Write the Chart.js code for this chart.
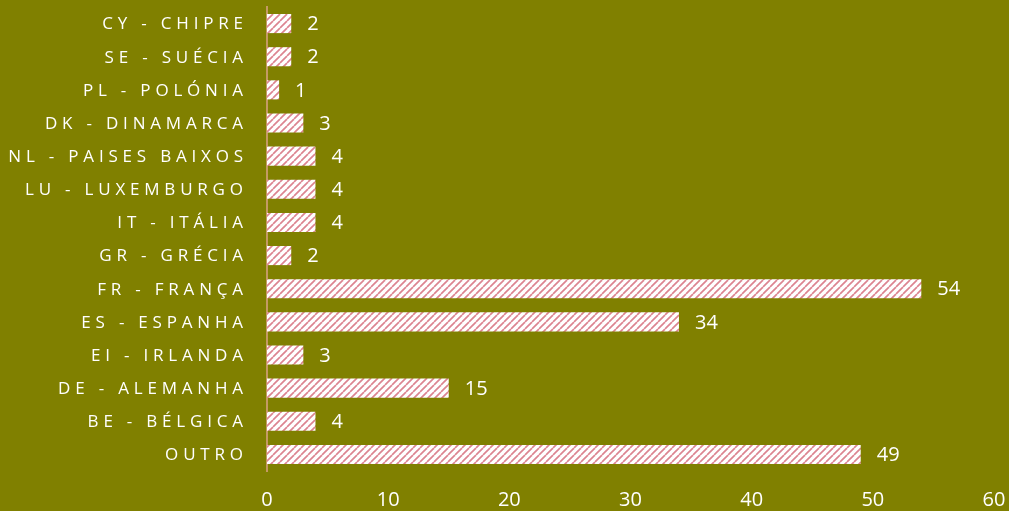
<!DOCTYPE html>
<html>
<head>
<meta charset="utf-8">
<script src="https://cdn.jsdelivr.net/npm/chart.js@4/dist/chart.umd.min.js"></script>
<style>
    html, body { margin: 0; padding: 0; background: #808000; }
    #wrap { width: 1009px; height: 511px; }
</style>
</head>
<body>
<div id="wrap"><canvas id="grafico"></canvas></div>
<script>
// datos (orden original, de abajo hacia arriba)
const paises = ['OUTRO', 'BE - BÉLGICA', 'DE - ALEMANHA', 'EI - IRLANDA', 'ES - ESPANHA',
    'FR - FRANÇA', 'GR - GRÉCIA', 'IT - ITÁLIA', 'LU - LUXEMBURGO', 'NL - PAISES BAIXOS',
    'DK - DINAMARCA', 'PL - POLÓNIA', 'SE - SUÉCIA', 'CY - CHIPRE'];
const valores = [49, 4, 15, 3, 34, 54, 2, 4, 4, 4, 3, 1, 2, 2];
const ticksX = [0, 10, 20, 30, 40, 50, 60];

const fuente = '"Open Sans", sans-serif';

// patrón rayado diagonal
function crearPatron() {
    const tile = document.createElement('canvas');
    tile.width = 7;
    tile.height = 7;
    const c = tile.getContext('2d');
    c.fillStyle = '#ffffff';
    c.fillRect(0, 0, 7, 7);
    c.strokeStyle = '#dc8490';
    c.lineWidth = 1.7;
    for (let off = -7; off <= 7; off += 7) {
        c.beginPath();
        c.moveTo(off, 7);
        c.lineTo(off + 7, 0);
        c.stroke();
    }
    return c.createPattern(tile, 'repeat');
}

const etiquetasY = {
    id: 'etiquetasY',
    afterDraw(chart) {
        const ctx = chart.ctx;
        const y = chart.scales.y;
        ctx.save();
        ctx.fillStyle = '#ffffff';
        ctx.font = '17px ' + fuente;
        ctx.letterSpacing = '4.8px';
        ctx.textAlign = 'right';
        ctx.textBaseline = 'middle';
        paises.forEach((p, i) => {
            ctx.fillText(p, chart.chartArea.left - 24 + 4.8, y.getPixelForValue(i) + 1);
        });
        ctx.restore();
    }
};

const etiquetasValor = {
    id: 'etiquetasValor',
    afterDatasetsDraw(chart) {
        const ctx = chart.ctx;
        const meta = chart.getDatasetMeta(0);
        ctx.save();
        ctx.fillStyle = '#ffffff';
        ctx.font = '20px ' + fuente;
        ctx.textAlign = 'left';
        ctx.textBaseline = 'middle';
        meta.data.forEach((bar, i) => {
            ctx.fillText(String(valores[i]), bar.x + 16, bar.y + 1);
        });
        ctx.restore();
    }
};

new Chart(document.getElementById('grafico'), {
    type: 'bar',
    data: {
        labels: paises,
        datasets: [{
            data: valores,
            backgroundColor: crearPatron(),
            borderWidth: 0,
            barPercentage: 0.9,
            categoryPercentage: 0.64
        }]
    },
    options: {
        indexAxis: 'y',
        responsive: true,
        maintainAspectRatio: false,
        animation: false,
        layout: { padding: { top: 7, right: 15, bottom: 0, left: 0 } },
        plugins: {
            legend: { display: false },
            tooltip: { enabled: false }
        },
        scales: {
            x: {
                min: 0,
                max: 60,
                afterBuildTicks(scale) {
                    scale.ticks = ticksX.map(v => ({ value: v }));
                },
                afterFit(scale) {
                    scale.height = 40;
                    scale.paddingLeft = 0;
                    scale.paddingRight = 0;
                },
                grid: { display: false, drawTicks: false },
                border: { display: false },
                ticks: {
                    color: '#ffffff',
                    font: { family: fuente, size: 20 },
                    padding: 17,
                    maxRotation: 0
                }
            },
            y: {
                reverse: true,
                afterFit(scale) { scale.width = 267; },
                grid: { display: false },
                border: { display: true, color: '#c49a64', width: 2 },
                ticks: { display: false }
            }
        }
    },
    plugins: [etiquetasY, etiquetasValor]
});
</script>
</body>
</html>
